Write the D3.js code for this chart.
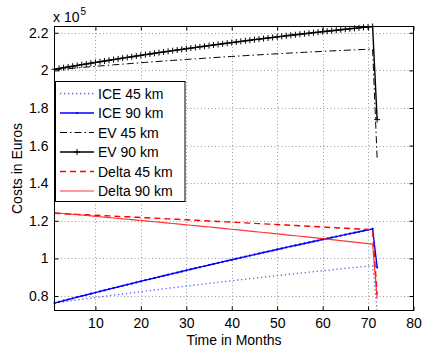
<!DOCTYPE html>
<html>
<head>
<meta charset="utf-8">
<script src="https://cdn.jsdelivr.net/npm/d3@7"></script>
<style>
  body { margin: 0; background: #fff; }
  svg { display: block; }
  text { font-family: "Liberation Sans", Arial, Helvetica, sans-serif; fill: #000; }
</style>
</head>
<body>
<svg id="chart" width="422" height="350"></svg>
<script>
// Months of ownership
const months = d3.range(1, 73);

// Cumulative costs per month, in units of 10^5 Euros
const ice45 = [
  0.7630,0.7663,0.7695,0.7728,0.7760,0.7792,0.7825,0.7857,0.7888,0.7920,
  0.7952,0.7983,0.8014,0.8046,0.8077,0.8108,0.8138,0.8169,0.8200,0.8230,
  0.8260,0.8291,0.8321,0.8351,0.8380,0.8410,0.8440,0.8469,0.8498,0.8527,
  0.8556,0.8585,0.8614,0.8643,0.8671,0.8700,0.8728,0.8756,0.8784,0.8812,
  0.8840,0.8867,0.8895,0.8922,0.8949,0.8976,0.9003,0.9030,0.9057,0.9084,
  0.9110,0.9136,0.9163,0.9189,0.9215,0.9240,0.9266,0.9292,0.9317,0.9342,
  0.9368,0.9393,0.9418,0.9442,0.9467,0.9492,0.9516,0.9540,0.9564,0.9588,
  0.9612,0.7230
];
const ice90 = [
  0.7630,0.7692,0.7754,0.7816,0.7878,0.7939,0.8001,0.8062,0.8123,0.8184,
  0.8244,0.8305,0.8365,0.8425,0.8485,0.8545,0.8605,0.8664,0.8723,0.8783,
  0.8842,0.8900,0.8959,0.9017,0.9076,0.9134,0.9192,0.9249,0.9307,0.9364,
  0.9422,0.9479,0.9535,0.9592,0.9649,0.9705,0.9761,0.9817,0.9873,0.9929,
  0.9984,1.0040,1.0095,1.0150,1.0205,1.0259,1.0314,1.0368,1.0422,1.0476,
  1.0530,1.0584,1.0637,1.0690,1.0743,1.0796,1.0849,1.0902,1.0954,1.1006,
  1.1058,1.1110,1.1162,1.1214,1.1265,1.1316,1.1367,1.1418,1.1469,1.1519,
  1.1570,0.9520
];
const ev45 = [
  2.0030,2.0052,2.0072,2.0093,2.0114,2.0134,2.0155,2.0176,2.0195,2.0215,
  2.0236,2.0255,2.0274,2.0294,2.0313,2.0332,2.0350,2.0369,2.0388,2.0406,
  2.0424,2.0443,2.0461,2.0479,2.0495,2.0513,2.0531,2.0548,2.0564,2.0581,
  2.0598,2.0614,2.0631,2.0647,2.0663,2.0679,2.0695,2.0710,2.0725,2.0741,
  2.0756,2.0770,2.0786,2.0800,2.0814,2.0828,2.0842,2.0856,2.0870,2.0884,
  2.0898,2.0910,2.0924,2.0937,2.0950,2.0962,2.0975,2.0988,2.1000,2.1011,
  2.1024,2.1036,2.1047,2.1058,2.1070,2.1081,2.1092,2.1102,2.1113,2.1123,
  2.1134,1.5300
];
const ev90 = [
  2.0060,2.0101,2.0142,2.0183,2.0223,2.0263,2.0304,2.0343,2.0382,2.0422,
  2.0460,2.0499,2.0537,2.0575,2.0613,2.0651,2.0689,2.0725,2.0762,2.0800,
  2.0836,2.0871,2.0908,2.0943,2.0979,2.1014,2.1049,2.1082,2.1117,2.1151,
  2.1186,2.1219,2.1252,2.1285,2.1319,2.1351,2.1383,2.1415,2.1447,2.1479,
  2.1510,2.1542,2.1572,2.1603,2.1634,2.1663,2.1693,2.1723,2.1752,2.1781,
  2.1810,2.1839,2.1867,2.1895,2.1922,2.1950,2.1978,2.2005,2.2032,2.2058,
  2.2084,2.2110,2.2136,2.2162,2.2187,2.2212,2.2237,2.2261,2.2286,2.2310,
  2.2334,1.7380
];
const delta45 = [
  1.2400,1.2389,1.2377,1.2365,1.2354,1.2342,1.2330,1.2319,1.2307,1.2295,
  1.2284,1.2272,1.2260,1.2248,1.2236,1.2224,1.2212,1.2200,1.2188,1.2176,
  1.2164,1.2152,1.2140,1.2128,1.2115,1.2103,1.2091,1.2079,1.2066,1.2054,
  1.2042,1.2029,1.2017,1.2004,1.1992,1.1979,1.1967,1.1954,1.1941,1.1929,
  1.1916,1.1903,1.1891,1.1878,1.1865,1.1852,1.1839,1.1826,1.1813,1.1800,
  1.1788,1.1774,1.1761,1.1748,1.1735,1.1722,1.1709,1.1696,1.1683,1.1669,
  1.1656,1.1643,1.1629,1.1616,1.1603,1.1589,1.1576,1.1562,1.1549,1.1535,
  1.1522,0.8070
];
const delta90 = [
  1.2430,1.2409,1.2388,1.2367,1.2345,1.2324,1.2303,1.2281,1.2259,1.2238,
  1.2216,1.2194,1.2172,1.2150,1.2128,1.2106,1.2084,1.2061,1.2039,1.2017,
  1.1994,1.1971,1.1949,1.1926,1.1903,1.1880,1.1857,1.1833,1.1810,1.1787,
  1.1764,1.1740,1.1717,1.1693,1.1670,1.1646,1.1622,1.1598,1.1574,1.1550,
  1.1526,1.1502,1.1477,1.1453,1.1429,1.1404,1.1379,1.1355,1.1330,1.1305,
  1.1280,1.1255,1.1230,1.1205,1.1179,1.1154,1.1129,1.1103,1.1078,1.1052,
  1.1026,1.1000,1.0974,1.0948,1.0922,1.0896,1.0870,1.0843,1.0817,1.0791,
  1.0764,0.7860
];

const seriesNames = ["ICE 45 km", "ICE 90 km", "EV 45 km", "EV 90 km", "Delta 45 km", "Delta 90 km"];
const seriesValues = [ice45, ice90, ev45, ev90, delta45, delta90];

const xTicks = [10, 20, 30, 40, 50, 60, 70, 80];
const yTicks = [0.8, 1.0, 1.2, 1.4, 1.6, 1.8, 2.0, 2.2];
const yTickLabels = ["0.8", "1", "1.2", "1.4", "1.6", "1.8", "2", "2.2"];

// Line styles per series
const styles = [
  { color: "#5c5cff", width: 1.3, dash: "1.3,2.7",   marker: null,   opacity: 1 },
  { color: "#0000ff", width: 1.4, dash: null,        marker: "dot",  opacity: 1 },
  { color: "#000000", width: 1,   dash: "7,3,1.5,3", marker: null,   opacity: 1 },
  { color: "#000000", width: 1.4, dash: null,        marker: "plus", opacity: 1 },
  { color: "#ff0000", width: 1.4, dash: "6,4",       marker: null,   opacity: 1 },
  { color: "#ff2020", width: 1.2, dash: null,        marker: null,   opacity: 0.9 }
];

const plotL = 54, plotR = 414, plotT = 26, plotB = 311;
const svg = d3.select("#chart");

const x = d3.scaleLinear().domain([1, 80]).range([plotL + 0.5, plotR - 0.5]);
const yExtent = d3.extent(seriesValues.flat());
const y = d3.scaleLinear().domain(yExtent).range([plotB - 0.5, plotT + 0.5]);

// Dotted grid
const grid = svg.append("g").attr("stroke", "#9a9a9a").attr("stroke-width", 1)
  .attr("stroke-dasharray", "1,2.5");
grid.selectAll(".gx").data(xTicks.filter(t => t < 80)).join("line")
  .attr("x1", d => Math.round(x(d)) + 0.5).attr("x2", d => Math.round(x(d)) + 0.5)
  .attr("y1", plotT).attr("y2", plotB);
grid.selectAll(".gy").data(yTicks).join("line")
  .attr("y1", d => Math.round(y(d)) + 0.5).attr("y2", d => Math.round(y(d)) + 0.5)
  .attr("x1", plotL).attr("x2", plotR);

// Series lines
const line = d3.line().x((d, i) => x(months[i])).y(d => y(d));
const plot = svg.append("g");
seriesValues.forEach((vals, k) => {
  const s = styles[k];
  plot.append("path").datum(vals)
    .attr("d", line)
    .attr("fill", "none")
    .attr("stroke", s.color)
    .attr("stroke-width", s.width)
    .attr("stroke-opacity", s.opacity)
    .attr("stroke-dasharray", s.dash);
  if (s.marker === "plus") {
    plot.append("g").selectAll("path").data(vals).join("path")
      .attr("d", (d, i) => {
        const cx = x(months[i]), cy = y(d);
        return `M${cx - 3},${cy}H${cx + 3}M${cx},${cy - 3}V${cy + 3}`;
      })
      .attr("stroke", s.color).attr("stroke-width", 1);
  } else if (s.marker === "dot") {
    plot.append("g").selectAll("circle").data(vals).join("circle")
      .attr("cx", (d, i) => x(months[i])).attr("cy", d => y(d))
      .attr("r", 1.1).attr("fill", s.color);
  }
});

// Axes with inward ticks on all four sides
const fontSize = 14;
const axB = svg.append("g").attr("transform", `translate(0,${plotB - 0.5})`)
  .call(d3.axisBottom(x).tickValues(xTicks).tickSize(-4).tickPadding(8));
const axL = svg.append("g").attr("transform", `translate(${plotL + 0.5},0)`)
  .call(d3.axisLeft(y).tickValues(yTicks).tickSize(-4).tickPadding(6)
    .tickFormat((d, i) => yTickLabels[i]));
const axT = svg.append("g").attr("transform", `translate(0,${plotT + 0.5})`)
  .call(d3.axisTop(x).tickValues(xTicks).tickSize(-4).tickFormat(""));
const axR = svg.append("g").attr("transform", `translate(${plotR - 0.5},0)`)
  .call(d3.axisRight(y).tickValues(yTicks).tickSize(-4).tickFormat(""));
[axB, axL, axT, axR].forEach(a => {
  a.select(".domain").remove();
  a.selectAll("line").attr("stroke", "#000");
  a.selectAll("text").attr("font-size", fontSize)
    .attr("font-family", "Liberation Sans, Arial, sans-serif").attr("fill", "#000");
});

// Plot frame
svg.append("rect")
  .attr("x", plotL + 0.5).attr("y", plotT + 0.5)
  .attr("width", plotR - plotL - 1).attr("height", plotB - plotT - 1)
  .attr("fill", "none").attr("stroke", "#000").attr("stroke-width", 1);

// Exponent label
const mult = svg.append("text").attr("x", 53).attr("y", 22).attr("font-size", fontSize);
mult.append("tspan").text("x 10");
mult.append("tspan").attr("font-size", 10).attr("dy", -7).attr("dx", 1).text("5");

// Axis titles
svg.append("text")
  .attr("x", (plotL + plotR) / 2).attr("y", 344.5)
  .attr("text-anchor", "middle").attr("font-size", fontSize)
  .text("Time in Months");
svg.append("text")
  .attr("transform", `translate(22,${(plotT + plotB) / 2}) rotate(-90)`)
  .attr("text-anchor", "middle").attr("font-size", fontSize)
  .text("Costs in Euros");

// Legend
const lg = svg.append("g");
lg.append("rect").attr("x", 55.5).attr("y", 81.5).attr("width", 129.5).attr("height", 120)
  .attr("fill", "#fff").attr("stroke", "#000").attr("stroke-width", 1);
seriesNames.forEach((name, k) => {
  const s = styles[k];
  const cy = 93.5 + k * 19.5;
  lg.append("line").attr("x1", 60).attr("x2", 94).attr("y1", cy).attr("y2", cy)
    .attr("stroke", s.color).attr("stroke-width", s.width)
    .attr("stroke-opacity", s.opacity).attr("stroke-dasharray", s.dash);
  if (s.marker === "plus") {
    lg.append("path").attr("d", `M74,${cy}H80M77,${cy - 3}V${cy + 3}`)
      .attr("stroke", s.color).attr("stroke-width", 1);
  } else if (s.marker === "dot") {
    lg.append("circle").attr("cx", 77).attr("cy", cy).attr("r", 1.1).attr("fill", s.color);
  }
  lg.append("text").attr("x", 98).attr("y", cy).attr("dy", "0.36em")
    .attr("font-size", fontSize).text(name);
});
</script>
</body>
</html>
